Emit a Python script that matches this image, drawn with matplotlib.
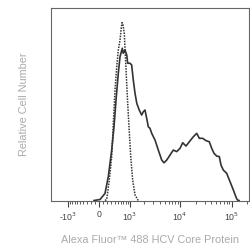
import numpy as np
import matplotlib
matplotlib.use("Agg")
import matplotlib.pyplot as plt

plt.rcParams['font.family'] = ['Liberation Sans', 'DejaVu Sans']
plt.rcParams['axes.unicode_minus'] = False

# solid histogram: stained sample (fluorescence, % of max)
solid_x = [-120, 24, 145, 228, 319, 385, 446, 519, 578, 661, 697, 769, 843, 887,
           1001, 1086, 1176, 1280, 1393, 1564, 1756, 1896, 2050, 2216, 2383, 2574,
           2785, 3236, 3757, 4381, 4861, 5484, 6359, 7371, 8587, 9956, 11236, 13016,
           15084, 18047, 21011, 23601, 27476, 31847, 36900, 41094, 45540, 51381,
           57708, 62254, 69024, 80323, 93115, 107986, 121844, 129146, 139400]
solid_y = [0, 0.5, 3.7, 12.4, 26.2, 38.3, 52.2, 66.1, 74.7, 79.1, 76.5, 78.2, 75.6, 71.3,
           71.3, 70.4, 62.6, 55.7, 50.5, 47.0, 44.4, 46.1, 47.0, 42.7, 38.3, 37.5,
           34.9, 31.4, 26.2, 21.0, 19.6, 21.0, 23.6, 26.2, 25.4, 27.1, 30.0, 28.3,
           30.5, 33.1, 34.9, 32.3, 32.3, 31.1, 30.5, 27.1, 24.5, 23.1,
           22.8, 18.4, 15.8, 14.1, 9.8, 5.5, 1.7, 0.3, 0]

# dotted histogram: isotype control
dotted_x = [145, 187, 254, 319, 365, 415, 468, 519, 578, 622, 652, 687, 739, 799,
            871, 949, 1035, 1142, 1280, 1496]
dotted_y = [0, 0.5, 10.6, 22.8, 40.1, 57.4, 69.5, 78.2, 83.4, 89.6, 92.4, 91.2, 86.9, 71.3,
            53.9, 38.3, 22.8, 10.6, 2.9, 0]

major_ticks = [-1000, 0, 1000, 10000, 100000]
major_labels = ['-10$^3$', '0', '10$^3$', '10$^4$', '10$^5$']

W = 533.0


def fwd(x):
    return np.arcsinh(np.asarray(x, dtype=float) / W)


def inv(y):
    return W * np.sinh(np.asarray(y, dtype=float))


fig = plt.figure(figsize=(2.5, 2.5), dpi=100)
ax = fig.add_axes([0.204, 0.198, 0.792, 0.770])
ax.set_xscale('function', functions=(fwd, inv))

ax.plot(solid_x, solid_y, color='#333333', lw=1.2)
ax.plot(dotted_x, dotted_y, color='#333333', lw=1.1, ls=(0, (1, 0.8)))

ax.set_xlim(-2247, 217600)
ax.set_ylim(0, 100)

minor = [s * k * 100 for s in (-1, 1) for k in range(1, 10)]
minor += [k * 10 ** e for e in (3, 4) for k in range(2, 10)] + [200000]
ax.set_xticks(major_ticks)
ax.set_xticklabels(major_labels)
ax.set_xticks(minor, minor=True)
ax.set_yticks([])
ax.tick_params(axis='x', which='major', length=4, width=0.8, color='#444444',
               labelsize=6.3, labelcolor='#444444', pad=3)
ax.tick_params(axis='x', which='minor', length=2, width=0.6, color='#444444')

for sp in ax.spines.values():
    sp.set_color('#666666')
    sp.set_linewidth(0.8)

ax.set_xlabel('Alexa Fluor\u2122 488 HCV Core Protein', fontsize=7.8,
              color='#aaaaaa', labelpad=9)
ax.set_ylabel('Relative Cell Number', fontsize=7.8, color='#aaaaaa', labelpad=16)

fig.savefig('out.png', dpi=100)
